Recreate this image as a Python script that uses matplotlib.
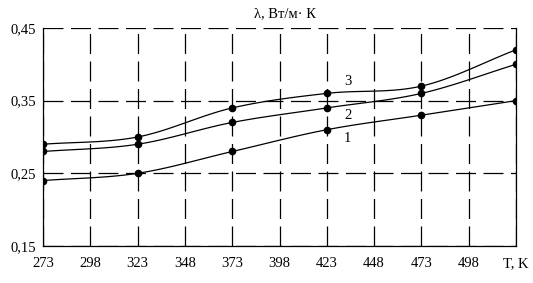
import matplotlib.pyplot as plt
import numpy as np

plt.rcParams['font.family'] = ['Liberation Serif', 'DejaVu Serif']

# data
temps = [273, 323, 373, 423, 473, 523]
lam_1 = [0.24, 0.25, 0.28, 0.31, 0.33, 0.35]
lam_2 = [0.28, 0.29, 0.32, 0.34, 0.36, 0.40]
lam_3 = [0.29, 0.30, 0.34, 0.36, 0.37, 0.42]
curve_names = ['1', '2', '3']
x_ticks = [273, 298, 323, 348, 373, 398, 423, 448, 473, 498, 523]
x_labels = ['273', '298', '323', '348', '373', '398', '423', '448', '473', '498', 'T, K']
y_ticks = [0.15, 0.25, 0.35, 0.45]
y_labels = ['0,15', '0,25', '0,35', '0,45']


def smooth(x, y, n=20):
    # catmull-rom through the measured points, only for drawing the line
    x = np.asarray(x, float)
    y = np.asarray(y, float)
    px = np.concatenate([[2 * x[0] - x[1]], x, [2 * x[-1] - x[-2]]])
    py = np.concatenate([[2 * y[0] - y[1]], y, [2 * y[-1] - y[-2]]])
    xs, ys = [], []
    t = np.linspace(0, 1, n, endpoint=False)
    for i in range(1, len(px) - 2):
        for p, out in ((px, xs), (py, ys)):
            p0, p1, p2, p3 = p[i - 1], p[i], p[i + 1], p[i + 2]
            out.extend(0.5 * (2 * p1 + (-p0 + p2) * t
                              + (2 * p0 - 5 * p1 + 4 * p2 - p3) * t ** 2
                              + (-p0 + 3 * p1 - 3 * p2 + p3) * t ** 3))
    xs.append(x[-1])
    ys.append(y[-1])
    return xs, ys


fig = plt.figure(figsize=(5.33, 2.83), dpi=100)
ax = fig.add_axes([0.081, 0.131, 0.887, 0.770])

for ys in (lam_1, lam_2, lam_3):
    sx, sy = smooth(temps, ys)
    ax.plot(sx, sy, color='black', lw=0.9, zorder=3)
    ax.plot(temps, ys, 'o', color='black', ms=4.5, zorder=4)

ax.text(434, 0.298, curve_names[0], fontsize=10.5, ha='center', va='center')
ax.text(434, 0.329, curve_names[1], fontsize=10.5, ha='center', va='center')
ax.text(434, 0.377, curve_names[2], fontsize=10.5, ha='center', va='center')

ax.set_xlim(273, 523)
ax.set_ylim(0.15, 0.45)
ax.set_xticks(x_ticks)
ax.set_xticklabels(x_labels)
ax.set_yticks(y_ticks)
ax.set_yticklabels(y_labels)
ax.tick_params(length=0, labelsize=10.5, pad=8)
ax.tick_params(axis='y', pad=5)

ax.grid(True, color='black', lw=0.9, linestyle=(0, (16, 6)))
ax.spines['top'].set_visible(False)
for s in ('left', 'bottom', 'right'):
    ax.spines[s].set_linewidth(0.9)

fig.text(0.535, 0.95, 'λ, Вт/м· К', fontsize=10.5, ha='center', va='center')

fig.savefig('out.png', dpi=100)
